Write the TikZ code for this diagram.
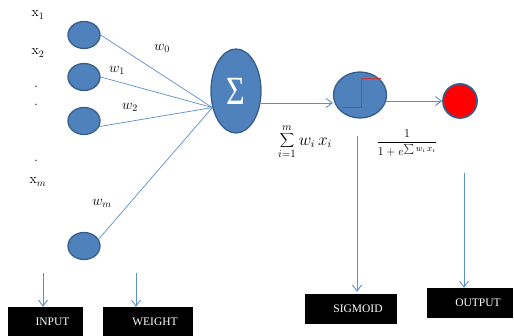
\documentclass[tikz,border=0pt]{standalone}
\usepackage{fontspec}
\usepackage{graphicx}
\newfontfamily\boxfont{Liberation Serif}
\usepackage{tikz}
\usetikzlibrary{shapes,arrows.meta}
\definecolor{nodeblue}{RGB}{79,129,189}
\definecolor{nodeborder}{RGB}{56,93,138}
\definecolor{linkblue}{RGB}{91,141,205}
\definecolor{stepred}{RGB}{192,60,60}
\tikzstyle{neuron}=[ellipse,
	line width=1.3pt,
	minimum width=32pt,
	minimum height=27pt,
	draw=nodeborder,
	fill=nodeblue]
\tikzstyle{sumnode}=[ellipse,
	line width=1.3pt,
	minimum width=50pt,
	minimum height=84pt,
	draw=nodeborder,
	fill=nodeblue,
	text=white]
\tikzstyle{actnode}=[ellipse,
	line width=1.3pt,
	minimum width=53pt,
	minimum height=46pt,
	draw=nodeborder,
	fill=nodeblue]
\tikzstyle{outnode}=[circle,
	line width=1.8pt,
	minimum size=34pt,
	draw=nodeborder,
	fill=red]
\tikzstyle{namebox}=[rectangle,
	inner sep=0pt,
	minimum height=30pt,
	fill=black,
	text=white,
	font=\boxfont\fontsize{11.5}{13}\selectfont]
\tikzstyle{mathlabel}=[inner sep=1pt,
	font=\fontsize{14}{16}\selectfont]
\tikzstyle{link}=[draw=linkblue,
	line width=0.7pt]
\tikzstyle{pointer}=[draw=linkblue,
	line width=0.9pt,
	-{Straight Barb[length=6pt,width=9pt]}]
\begin{document}
\begin{tikzpicture}[x=1pt,y=1pt]
					\useasboundingbox (0,0) rectangle (514,-336);
					% inputs
					\node (in1) [neuron] at (84,-35) {};
					\node (in2) [neuron, below of=in1, node distance=42pt] {};
					\node (in3) [neuron, below of=in2, node distance=44pt] {};
					\node (in4) [neuron, below of=in3, node distance=125pt] {};
					\node (x1) [mathlabel] at (38,-15) {$\mathrm{x}_1$};
					\node (x2) [mathlabel] at (38,-53) {$\mathrm{x}_2$};
					\node (dot1) [mathlabel] at (36,-87) {.};
					\node (dot2) [mathlabel] at (36,-105) {.};
					\node (dot3) [mathlabel] at (36,-161) {.};
					\node (xm) [mathlabel] at (38,-182) {$\mathrm{x}_m$};

					% summing junction
					\node (sum) [sumnode, inner sep=0pt] at (236,-91) {\scalebox{0.8}[1]{\boxfont\fontsize{40}{40}\selectfont Σ}};
					\draw[link] (in1.east) -- (sum.215);
					\draw[link] (in2.east) -- (sum.215);
					\draw[link] (in3.-20) -- (sum.215);
					\draw[link] (in4.25) -- (sum.215);
					\node (w0) [mathlabel] at (162,-48) {$w_0$};
					\node (w1) [mathlabel] at (117,-70) {$w_1$};
					\node (w2) [mathlabel] at (130,-107) {$w_2$};
					\node (wm) [mathlabel] at (102,-203) {$w_m$};

					% activation and output
					\node (sig) [actnode] at (360,-95) {};
					\draw[stepred, line width=0.8pt] ([shift={(-18,-12)}]sig.center) -- ([shift={(1,-12)}]sig.center)
						-- ([shift={(1,17)}]sig.center) -- ([shift={(21,17)}]sig.center);
					\draw[pointer] (sum.-26) -- (sum.-26 -| sig.west);
					\node (out) [outnode] at (460,-101) {};
					\draw[pointer] (sig.-13) -- (sig.-13 -| out.west);
					\node (sumf) [inner sep=0pt, font=\fontsize{16}{19}\selectfont] at (305,-142) {$\displaystyle\sum_{i=1}^{m} w_i\, x_i$};
					\node (sigf) [inner sep=0pt, font=\fontsize{12.5}{14}\selectfont] at (407,-143) {$\displaystyle\frac{1}{1+e^{\sum w_i\, x_i}}$};

					% names
					\node (inbox) [namebox, minimum width=75pt] at (45.5,-322) {\hspace*{14pt}INPUT};
					\node (wbox) [namebox, minimum width=90pt] at (148,-322) {\hspace*{14pt}WEIGHT};
					\node (sigbox) [namebox, minimum width=92pt] at (351,-309) {\hspace*{14pt}SIGMOID};
					\node (outbox) [namebox, minimum width=86pt] at (470,-303) {\hspace*{16pt}OUTPUT};
					\coordinate (intail) at (43,-273);
					\coordinate (wtail) at (136,-273);
					\coordinate (sigtail) at (357,-136);
					\coordinate (outtail) at (464,-173);
					\draw[pointer] (intail) -- (intail |- inbox.north);
					\draw[pointer] (wtail) -- (wtail |- wbox.north);
					\draw[pointer] (sigtail) -- ([yshift=2pt]sigtail |- sigbox.north);
					\draw[pointer] (outtail) -- (outtail |- outbox.north);
				\end{tikzpicture}
\end{document}
